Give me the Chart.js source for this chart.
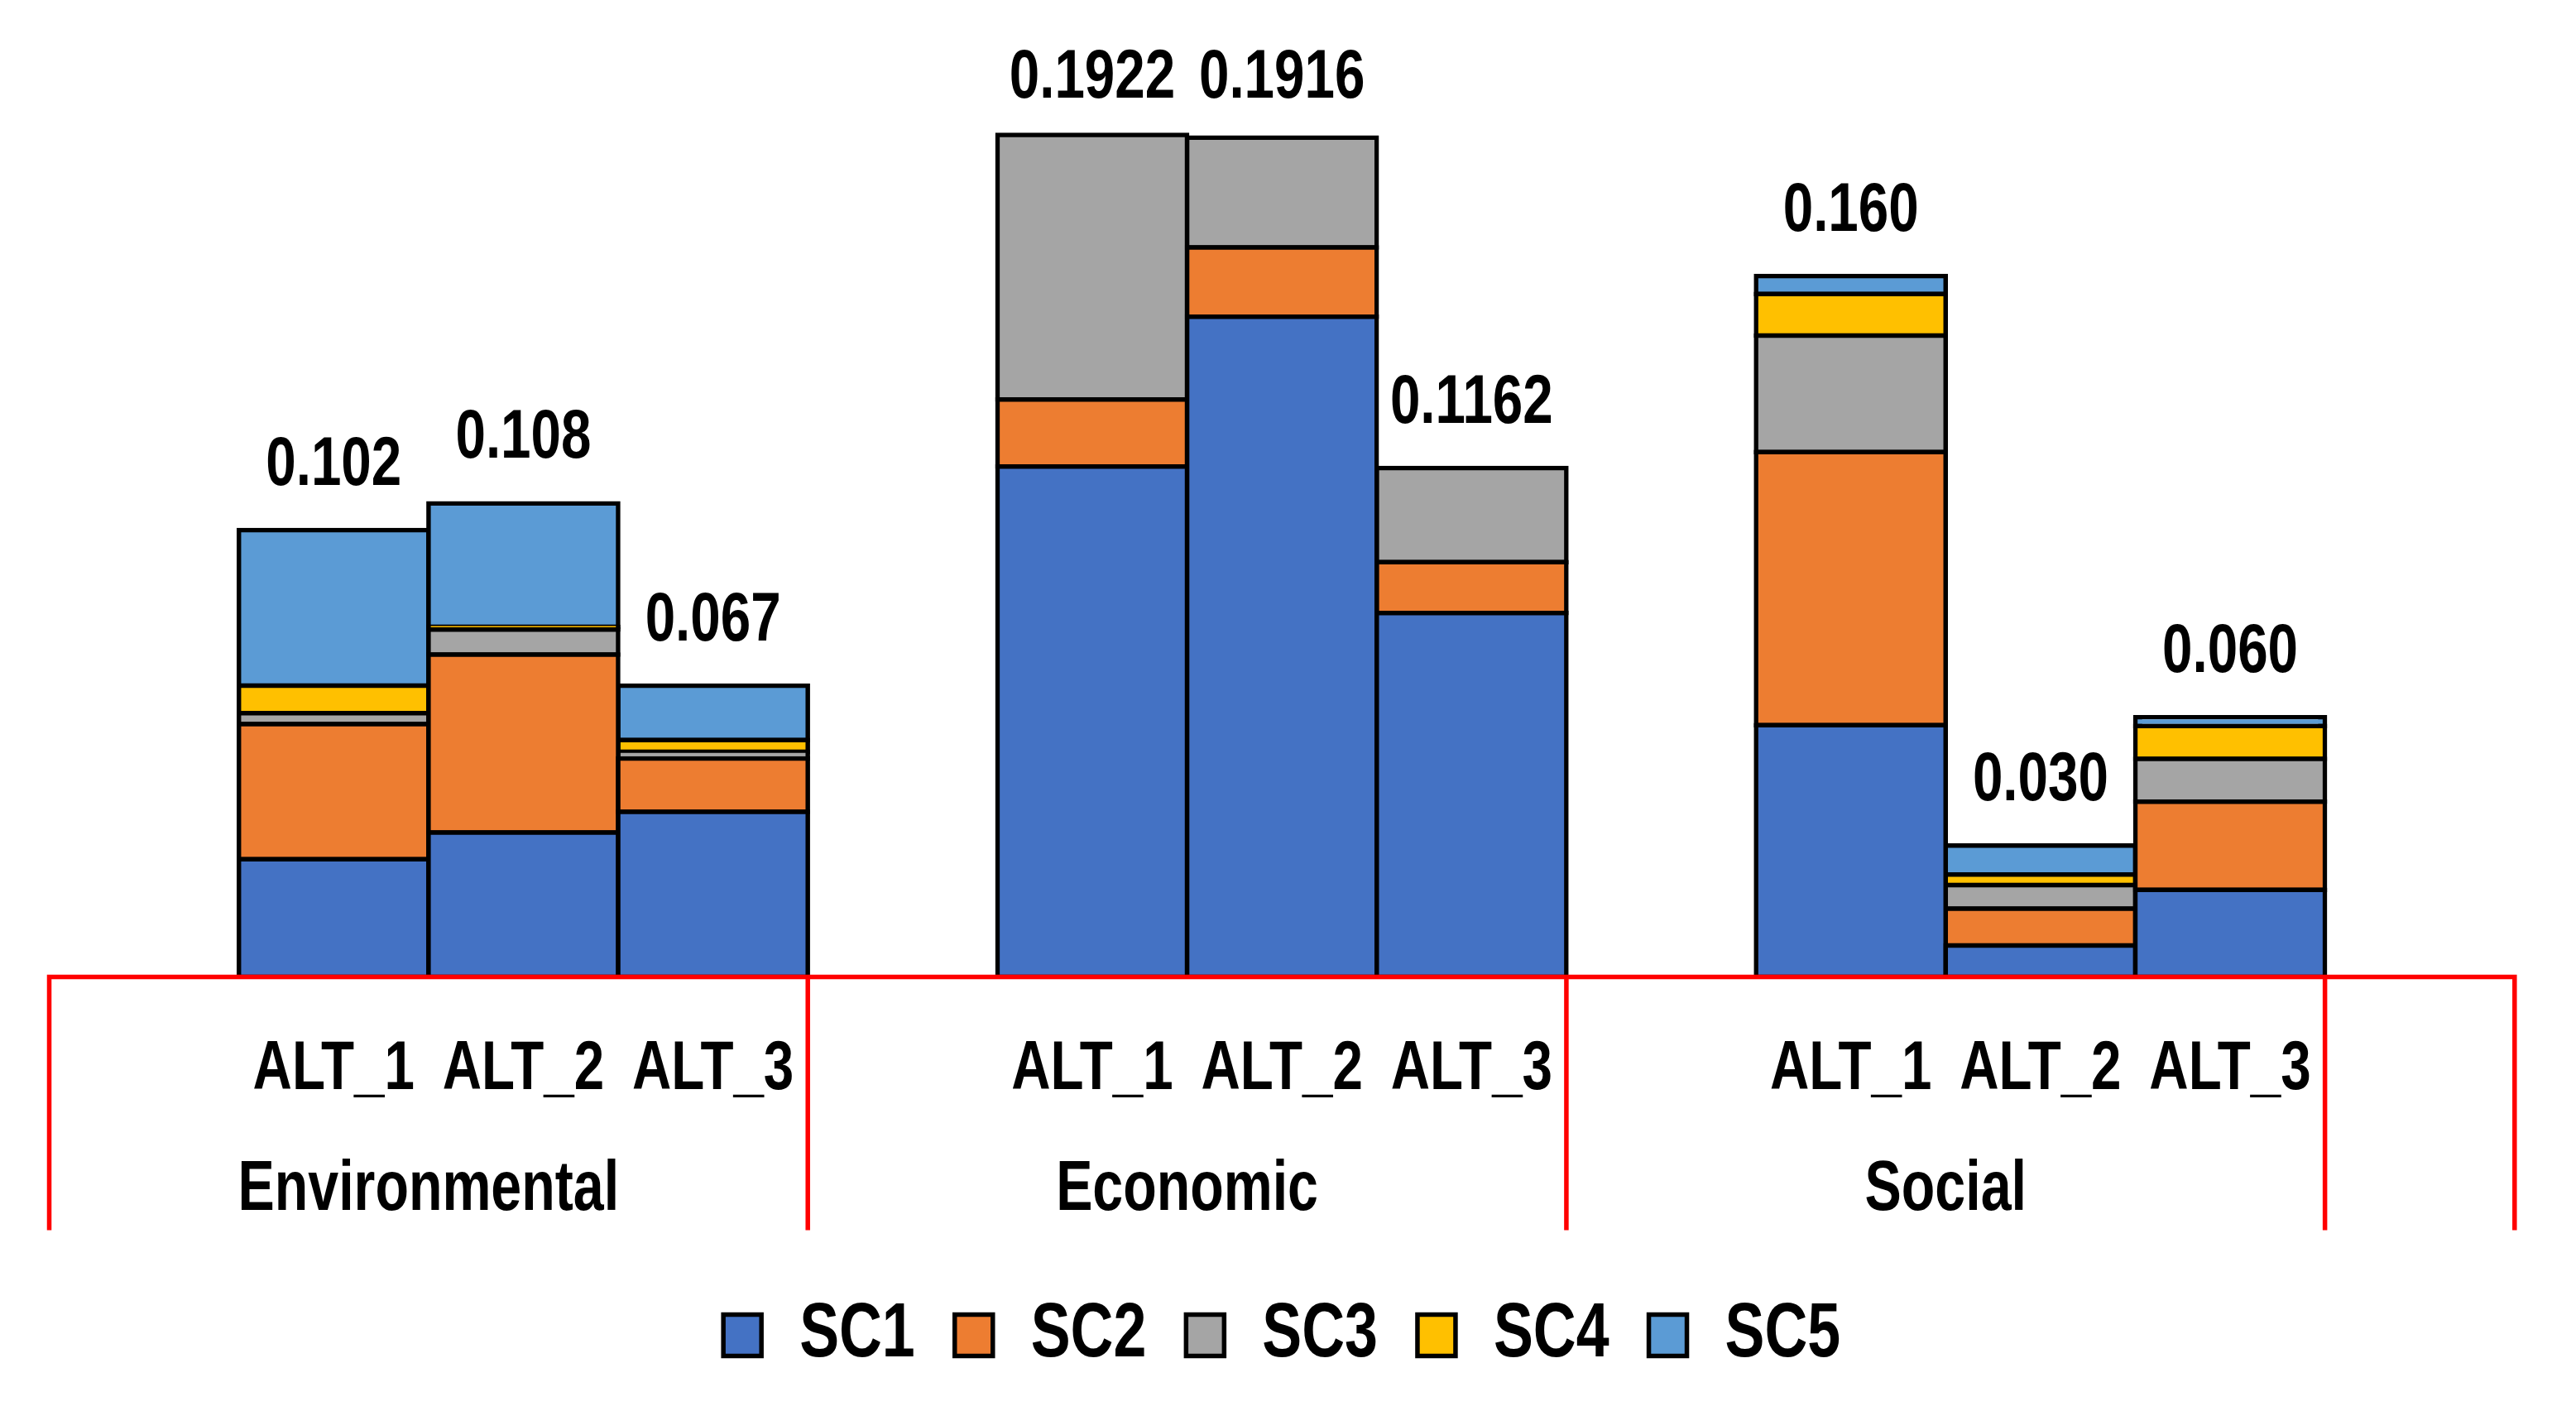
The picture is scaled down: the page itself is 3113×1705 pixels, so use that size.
<!DOCTYPE html>
<html>
<head>
<meta charset="utf-8">
<title>Stacked scores by pillar</title>
<script src="https://cdn.jsdelivr.net/npm/chart.js@4.4.1/dist/chart.umd.min.js"></script>
<style>
  html, body { margin: 0; padding: 0; background: #fff; }
  canvas { display: block; }
</style>
</head>
<body>
<canvas id="chart" width="3113" height="1705"></canvas>
<script>
// one slot per bar, an empty slot opens every group and closes the axis
const altLabels = ['', 'ALT_1', 'ALT_2', 'ALT_3', '', 'ALT_1', 'ALT_2', 'ALT_3', '', 'ALT_1', 'ALT_2', 'ALT_3', ''];
const groupLabels = ['Environmental', 'Economic', 'Social'];
const seriesNames = ['SC1', 'SC2', 'SC3', 'SC4', 'SC5'];

const sc1 = [null, 0.0269, 0.0330, 0.0377, null, 0.1165, 0.1507, 0.0831, null, 0.0575, 0.0072, 0.0199, null];
const sc2 = [null, 0.0308, 0.0406, 0.0122, null, 0.0153, 0.0158, 0.0116, null, 0.0623, 0.0084, 0.0201, null];
const sc3 = [null, 0.0025, 0.0057, 0.0015, null, 0.0604, 0.0251, 0.0215, null, 0.0266, 0.0054, 0.0098, null];
const sc4 = [null, 0.0063, 0.0006, 0.0027, null, 0, 0, 0, null, 0.0095, 0.0024, 0.0075, null];
const sc5 = [null, 0.0355, 0.0282, 0.0124, null, 0, 0, 0, null, 0.0041, 0.0066, 0.0020, null];

// printed totals above each bar
const totalLabels = ['', '0.102', '0.108', '0.067', '', '0.1922', '0.1916', '0.1162', '', '0.160', '0.030', '0.060', ''];

const colors = ['#4472C4', '#ED7D31', '#A5A5A5', '#FFC000', '#5B9BD5'];
const FONT = '"Liberation Sans", Arial, sans-serif';
const CONDENSE = 0.78;     // no narrow face installed, so squeeze the text
const GROUP_SIZE = 4;
const FRAME_DEPTH = 306;   // red frame below the baseline
const GROUP_LABEL_Y = 258; // group names, below the baseline

const series = [sc1, sc2, sc3, sc4, sc5];

// draw and measure every label of this chart horizontally condensed
const narrowText = {
  id: 'narrowText',
  beforeInit(chart) {
    const ctx = chart.ctx;
    const fill = ctx.fillText.bind(ctx);
    const measure = ctx.measureText.bind(ctx);
    ctx.fillText = function (text, x, y) {
      this.save();
      this.translate(x, y);
      this.scale(CONDENSE, 1);
      fill(text, 0, 0);
      this.restore();
    };
    ctx.measureText = function (text) {
      const m = measure(text);
      return {
        width: m.width * CONDENSE,
        actualBoundingBoxAscent: m.actualBoundingBoxAscent,
        actualBoundingBoxDescent: m.actualBoundingBoxDescent
      };
    };
  }
};

const axisFrame = {
  id: 'axisFrame',
  afterDatasetsDraw(chart) {
    const { ctx, chartArea, scales: { x, y } } = chart;
    const base = y.getPixelForValue(0);
    const slot = x.getPixelForValue(1) - x.getPixelForValue(0);
    const firstEdge = x.getPixelForValue(0) - slot / 2;

    ctx.save();
    ctx.strokeStyle = '#ff0000';
    ctx.lineWidth = 5.5;
    ctx.beginPath();
    ctx.moveTo(chartArea.left, base);
    ctx.lineTo(chartArea.right, base);
    const edges = [];
    for (let i = 0; i <= altLabels.length; i += GROUP_SIZE) edges.push(i);
    edges.push(altLabels.length);
    edges.forEach(i => {
      const px = firstEdge + i * slot;
      ctx.moveTo(px, base - 2.75);
      ctx.lineTo(px, base + FRAME_DEPTH);
    });
    ctx.stroke();

    ctx.fillStyle = '#000';
    ctx.textAlign = 'center';
    ctx.textBaseline = 'middle';
    ctx.font = 'bold 85px ' + FONT;
    groupLabels.forEach((g, gi) => {
      const a = x.getPixelForValue(gi * GROUP_SIZE);
      const b = x.getPixelForValue(gi * GROUP_SIZE + GROUP_SIZE - 1);
      ctx.fillText(g, (a + b) / 2, base + GROUP_LABEL_Y);
    });

    ctx.font = 'bold 84px ' + FONT;
    totalLabels.forEach((t, i) => {
      if (!t) return;
      const total = series.reduce((s, arr) => s + (arr[i] || 0), 0);
      const top = y.getPixelForValue(total);
      ctx.fillText(t, x.getPixelForValue(i), Math.max(top - 78, 95));
    });
    ctx.restore();
  }
};

new Chart(document.getElementById('chart'), {
  type: 'bar',
  data: {
    labels: altLabels,
    datasets: seriesNames.map((name, i) => ({
      label: name,
      data: series[i],
      backgroundColor: colors[i],
      borderColor: '#000',
      borderWidth: 5.5,
      borderSkipped: false,
      inflateAmount: 2.75,
      barPercentage: 1,
      categoryPercentage: 1
    }))
  },
  options: {
    responsive: false,
    devicePixelRatio: 1,
    animation: false,
    layout: { padding: { left: 59.5, right: 74.2, top: 121.7, bottom: 35.4 } },
    plugins: {
      tooltip: { enabled: false },
      legend: {
        position: 'bottom',
        labels: {
          color: '#000',
          boxWidth: 46,
          boxHeight: 50,
          padding: 48,
          font: { family: FONT, size: 92, weight: 'bold' }
        }
      }
    },
    scales: {
      x: {
        stacked: true,
        grid: { display: false, drawTicks: false },
        border: { display: false },
        ticks: {
          autoSkip: false,
          maxRotation: 0,
          padding: 62,
          color: '#000',
          font: { family: FONT, size: 84, weight: 'bold', lineHeight: 1.2 }
        },
        afterFit(scale) { scale.height = 339; }
      },
      y: { stacked: true, display: false, min: 0, max: 0.2 }
    }
  },
  plugins: [narrowText, axisFrame]
});
</script>
</body>
</html>
